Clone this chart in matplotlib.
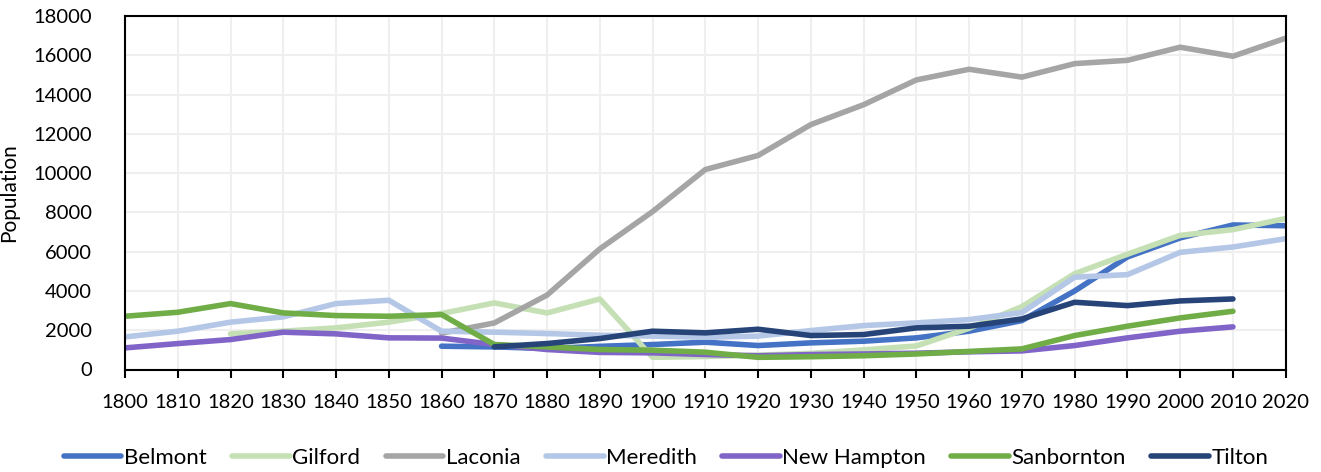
import numpy as np
import matplotlib
matplotlib.use("Agg")
import matplotlib.pyplot as plt

plt.rcParams['font.family'] = ['Lato', 'DejaVu Sans']

nan = np.nan
years = list(range(1800, 2021, 10))

belmont = [nan, nan, nan, nan, nan, nan, 1186, 1150, 1070, 1180, 1270, 1390, 1220, 1356, 1441, 1610, 1950, 2490, 4000, 5730, 6700, 7360, 7320]
gilford = [nan, nan, 1816, 1950, 2120, 2410, 2850, 3390, 2880, 3590, 620, 660, 730, 820, 1000, 1200, 2100, 3200, 4880, 5870, 6830, 7120, 7690]
laconia = [nan, nan, nan, nan, nan, nan, 1850, 2370, 3790, 6143, 8042, 10183, 10897, 12471, 13484, 14745, 15288, 14888, 15575, 15743, 16411, 15951, 16871]
meredith = [1660, 1950, 2410, 2680, 3356, 3526, 1950, 1900, 1830, 1745, 1700, 1640, 1700, 1983, 2237, 2373, 2542, 2900, 4700, 4830, 5966, 6238, 6661]
new_hampton = [1100, 1320, 1525, 1900, 1814, 1612, 1600, 1270, 1017, 870, 848, 763, 700, 760, 790, 830, 900, 946, 1220, 1610, 1950, 2170, nan]
sanbornton = [2711, 2915, 3356, 2881, 2746, 2711, 2797, 1271, 1150, 1017, 983, 881, 620, 650, 700, 790, 920, 1050, 1729, 2204, 2627, 2966, nan]
tilton = [nan, nan, nan, nan, nan, nan, nan, 1153, 1322, 1576, 1950, 1865, 2050, 1729, 1780, 2119, 2204, 2577, 3424, 3254, 3492, 3593, nan]

names = ["Belmont", "Gilford", "Laconia", "Meredith", "New Hampton", "Sanbornton", "Tilton"]
series = [belmont, gilford, laconia, meredith, new_hampton, sanbornton, tilton]
colors = ["#4472C4", "#C5E0B4", "#A5A5A5", "#B4C7E7", "#8064C8", "#70AD47", "#264478"]

fig = plt.figure(figsize=(13.21, 4.72), dpi=100)
ax = fig.add_axes([125/1321, 1-369.5/472, (1285.7-125)/1321, (369.5-16)/472])

for name, vals, c in zip(names, series, colors):
    ax.plot(years, vals, color=c, lw=4, label=name, solid_capstyle='round', solid_joinstyle='round')

ax.set_xlim(1800, 2020)
ax.set_ylim(0, 18000)
ax.set_xticks(years)
ax.set_xticklabels([str(y) for y in years])
ax.set_yticks(range(0, 18001, 2000))
ax.grid(True, color="#EFEFEF", lw=1.5)
ax.set_axisbelow(True)
for s in ax.spines.values():
    s.set_color("black")
    s.set_linewidth(1.5)
ax.tick_params(axis='x', length=6, width=1.5, pad=12, labelsize=14.5, colors='black')
ax.tick_params(axis='y', length=0, pad=24, labelsize=14.5, colors='black')
ax.set_ylabel("Population", fontsize=15)
ax.yaxis.set_label_coords((19-125)/1160.7, 0.5)

leg = ax.legend(loc='center', bbox_to_anchor=(666/1321, 1-458/472), bbox_transform=fig.transFigure,
                ncol=7, frameon=False, fontsize=16, handlelength=2.6, handletextpad=0.1,
                columnspacing=1.15, borderpad=0)

fig.savefig("out.png", dpi=100)
